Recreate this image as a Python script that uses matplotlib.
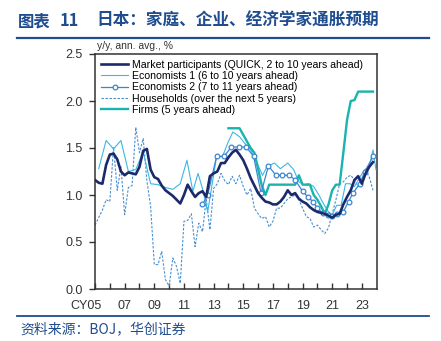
import numpy as np
import matplotlib.pyplot as plt
import matplotlib.transforms as mtransforms

plt.rcParams['font.family'] = ['Liberation Sans', 'DejaVu Sans']

# quarterly series, 2005Q1 .. 2023Q4
QUARTERS = 2005 + 0.25 * np.arange(76)

market = [1.16, 1.13, 1.12, 1.32, 1.43, 1.44, 1.38, 1.25,
          1.21, 1.24, 1.23, 1.22, 1.30, 1.47, 1.49, 1.27,
          1.19, 1.17, 1.10, 1.05, 1.02, 0.99, 0.95, 0.91,
          1.00, 1.11, 1.04, 0.98, 1.02, 1.04, 0.98, 1.20,
          1.23, 1.25, 1.34, 1.34, 1.40, 1.45, 1.48, 1.43,
          1.37, 1.28, 1.18, 1.10, 1.02, 0.97, 0.93, 0.92,
          0.90, 0.90, 0.93, 0.98, 1.05, 1.00, 1.02, 0.96,
          0.93, 0.91, 0.87, 0.84, 0.82, 0.81, 0.80, 0.78,
          0.76, 0.79, 0.80, 0.90, 0.98, 1.05, 1.16, 1.20,
          1.12, 1.23, 1.30, 1.35]

households = [0.68, 0.76, 0.84, 0.95, 0.93, 1.51, 1.05, 1.30,
              0.79, 1.08, 1.10, 1.72, 1.45, 1.60, 1.15, 0.88,
              0.26, 0.26, 0.40, 0.10, 0.03, 0.33, 0.24, 0.06,
              0.72, 0.73, 0.80, 0.45, 0.70, 0.61, 0.96, 0.63,
              1.07, 1.12, 1.23, 1.15, 1.11, 1.20, 1.12, 1.21,
              1.09, 1.00, 1.07, 0.86, 0.80, 0.75, 0.77, 0.66,
              0.72, 0.86, 0.86, 0.91, 0.96, 0.98, 1.00, 0.95,
              0.86, 0.77, 0.75, 0.66, 0.68, 0.63, 0.59, 0.65,
              0.80, 0.95, 1.12, 1.14, 1.19, 1.21, 1.16, 1.09,
              1.11, 1.27, 1.19, 1.05]

# firms: 2014Q1 .. 2023Q4
firms = [1.71, 1.71, 1.71, 1.71, 1.64, 1.57, 1.50, 1.45,
         1.28, 1.10, 1.00, 1.11, 1.11, 1.11, 1.11, 1.11,
         1.11, 1.11, 1.11, 1.21, 1.11, 1.11, 1.11, 1.00,
         0.95, 0.88, 0.80, 0.90, 1.05, 1.11, 1.11, 1.45,
         1.80, 2.00, 2.01, 2.10, 2.10, 2.10, 2.10, 2.10]

econ1_x = [2005.25, 2005.75, 2006.25, 2006.75, 2007.25, 2007.75, 2008.25, 2008.75,
           2009.25, 2009.75, 2010.25, 2010.75, 2011.2, 2011.6, 2011.95, 2012.3,
           2012.6, 2013.2, 2013.6, 2014.0, 2014.3, 2014.75, 2015.1, 2015.5,
           2015.9, 2016.3, 2016.6, 2017.1, 2017.5, 2018.0, 2018.4, 2018.75,
           2019.1, 2019.4, 2019.75, 2020.1, 2020.4, 2020.75, 2021.0, 2021.3,
           2021.6, 2021.9, 2022.2, 2022.5, 2022.9, 2023.2, 2023.5, 2023.75, 2023.95]
econ1 = [1.28, 1.58, 1.49, 1.58, 1.25, 1.27, 1.46, 1.12,
         1.11, 1.08, 1.06, 1.12, 1.37, 1.04, 1.23, 1.04,
         0.82, 1.41, 1.41, 1.57, 1.67, 1.62, 1.55, 1.48,
         1.35, 1.21, 1.30, 1.34, 1.28, 1.34, 1.27, 1.14,
         1.11, 1.12, 1.09, 1.00, 0.91, 0.82, 0.79, 0.89,
         0.89, 1.12, 1.12, 1.09, 1.20, 1.27, 1.30, 1.48, 1.27]

econ2_x = [2012.25, 2012.6, 2013.2, 2013.7, 2014.2, 2014.7, 2015.2, 2015.7,
           2016.2, 2016.7, 2017.2, 2017.6, 2018.1, 2018.5, 2019.0, 2019.35,
           2019.7, 2020.0, 2020.35, 2020.7, 2021.0, 2021.3, 2021.75, 2022.1,
           2022.4, 2022.85, 2023.2, 2023.75]
econ2 = [0.90, 1.00, 1.41, 1.41, 1.51, 1.51, 1.51, 1.41,
         1.02, 1.31, 1.21, 1.21, 1.21, 1.16, 1.04, 0.98,
         0.93, 0.86, 0.81, 0.79, 0.78, 0.80, 0.82, 0.93,
         1.02, 1.12, 1.25, 1.41]

YEAR_TICKS = list(range(2005, 2024))
YEAR_LABELS = ['CY05', '', '07', '', '09', '', '11', '', '13', '', '15', '',
               '17', '', '19', '', '21', '', '23']

TITLE_A = '图表'
TITLE_B = '11'
TITLE_C = '日本：家庭、企业、经济学家通胀预期'
SOURCE = '资料来源：BOJ，华创证券'
UNIT = 'y/y, ann. avg., %'

NAVY = '#1c2a6c'
LIGHT = '#3cb7e6'
MID = '#3a86d1'
DASH = '#4a8ecf'
TEAL = '#1ab3ad'
HEAD = '#1f4d8f'

fig = plt.figure(figsize=(4.41, 3.41), dpi=100)
ax = fig.add_axes([95 / 441, 1 - 289 / 341, (376.7 - 95) / 441, (289 - 54) / 341])

ax.plot(QUARTERS, market, color=NAVY, lw=1.9, label='Market participants (QUICK, 2 to 10 years ahead)', zorder=5)
ax.plot(econ1_x, econ1, color=LIGHT, lw=0.8, label='Economists 1 (6 to 10 years ahead)', zorder=3)
ax.plot(econ2_x, econ2, color=MID, lw=0.9, marker='o', ms=3.4, mfc='white', mec=MID, mew=0.9,
        label='Economists 2 (7 to 11 years ahead)', zorder=4)
ax.plot(QUARTERS, households, color=DASH, lw=0.8, ls=(0, (2.2, 1.4)),
        label='Households (over the next 5 years)', zorder=2)
ax.plot(QUARTERS[36:], firms, color=TEAL, lw=1.7, label='Firms (5 years ahead)', zorder=3)

ax.set_xlim(2005, 2024)
ax.set_ylim(0, 2.5)
ax.set_yticks([0, 0.5, 1.0, 1.5, 2.0, 2.5])
ax.set_yticklabels(['0.0', '0.5', '1.0', '1.5', '2.0', '2.5'])
ax.set_xticks(YEAR_TICKS)
ax.set_xticklabels(YEAR_LABELS)
for sp in ax.spines.values():
    sp.set_color('#333333')
    sp.set_linewidth(1.1)
ax.tick_params(axis='x', direction='in', length=4, width=1, color='#333333', pad=8,
               labelsize=9, labelcolor='#333333')
ax.tick_params(axis='y', direction='out', length=4, width=1, color='#333333', pad=5,
               labelsize=9, labelcolor='#333333')

# "CY05": keep "05" under the tick
lbl = ax.get_xticklabels()[0]
lbl.set_horizontalalignment('right')
lbl.set_transform(lbl.get_transform() + mtransforms.ScaledTranslation(6.7 / 100, 0, fig.dpi_scale_trans))

ax.text(0.007, 1.012, UNIT, transform=ax.transAxes, fontsize=7.5, color='#333333', va='bottom')

ax.legend(loc='upper left', bbox_to_anchor=(0.005, 0.995), frameon=False, fontsize=7.6,
          handlelength=2.55, handletextpad=0.35, labelspacing=0.12, borderpad=0.45,
          borderaxespad=0, numpoints=1)

cjk = ['Noto Sans CJK SC', 'DejaVu Sans']
fig.text(18 / 441, 1 - 21 / 341, TITLE_A, family=cjk, fontsize=11.8, weight='bold', color=HEAD, va='center')
fig.text(60 / 441, 1 - 21 / 341, TITLE_B, family=cjk, fontsize=11.8, weight='bold', color=HEAD, va='center')
fig.text(96 / 441, 1 - 21 / 341, TITLE_C, family=cjk, fontsize=12, weight='bold', color=HEAD, va='center')
fig.add_artist(plt.Line2D([17 / 441, 429 / 441], [1 - 37.7 / 341] * 2, color=HEAD, lw=1.6))
fig.add_artist(plt.Line2D([17 / 441, 429 / 441], [1 - 315.7 / 341] * 2, color=HEAD, lw=1.3))
fig.text(20 / 441, 1 - 329 / 341, SOURCE, family=cjk, fontsize=10, style='italic', color=HEAD, va='center')

fig.savefig('out.png', dpi=100)
